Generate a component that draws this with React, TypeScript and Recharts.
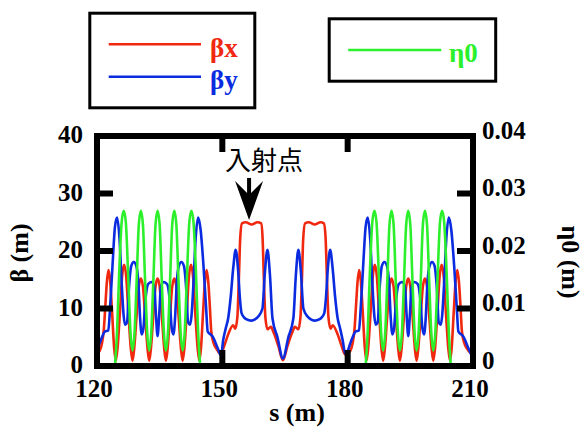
import { ComposedChart, Line, XAxis, YAxis, Legend, ReferenceDot } from 'recharts';

const RED = '#f0280f';
const BLUE = '#0a2be0';
const GREEN = '#2cf02c';
const SERIF = "'Liberation Serif', 'Times New Roman', Times, serif";
const CJK = "'Noto Sans CJK JP', 'Noto Sans CJK SC', sans-serif";

type Pt = [number, number | null];

const sTicks = [120, 150, 180, 210];
const betaTicks = [0, 10, 20, 30, 40];
const etaTicks = [0, 0.01, 0.02, 0.03, 0.04];

// injection point marker (s in m, beta in m)
const injection = { s: 156.4, beta: 25.4, label: '入射点' };

// βx : first arc, straight section, second arc
const betaXArc1: Pt[] = [
  [120.0, 2.2], [120.6, 2.6], [121.2, 4.0], [121.65, 6.5], [122.0, 10.5], [122.35, 14.5],
  [122.75, 16.7], [123.15, 14.8], [123.6, 9.5], [124.1, 3.2], [124.5, 0.9], [124.9, 3.0],
  [125.5, 9.5], [126.0, 15.5], [126.5, 17.6], [127.0, 15.5], [127.5, 9.5], [128.1, 3.0],
  [128.5, 0.9], [128.9, 3.0], [129.5, 9.0], [130.0, 13.8], [130.5, 15.2], [131.0, 13.8],
  [131.5, 9.0], [132.1, 3.0], [132.5, 0.9], [132.9, 3.0], [133.5, 9.0], [134.0, 13.8],
  [134.5, 15.2], [135.0, 13.8], [135.5, 9.0], [136.1, 3.0], [136.5, 0.9], [136.9, 3.0],
  [137.5, 9.0], [138.0, 13.8], [138.5, 15.2], [139.0, 13.8], [139.5, 9.0], [140.1, 3.0],
  [140.5, 0.9], [140.9, 3.0], [141.5, 9.5], [142.0, 15.5], [142.5, 17.6], [143.0, 15.5],
  [143.5, 9.5], [144.1, 3.0], [144.5, 0.9], [144.9, 3.2], [145.4, 9.5], [145.85, 14.8],
  [146.25, 16.7], [146.65, 14.5], [147.0, 10.5], [147.35, 6.0], [147.9, 4.0], [148.6, 3.0],
  [149.6, 2.1],
];
const betaXStraight: Pt[] = [
  [150.5, 3.6], [151.4, 5.5], [152.6, 7.1], [153.1, 6.5], [153.6, 8.5], [153.95, 15.0],
  [154.3, 22.5], [154.7, 24.8], [155.6, 25.0], [157.0, 24.6], [158.4, 25.0], [159.3, 24.8],
  [159.65, 22.0], [159.95, 15.0], [160.3, 8.5], [160.8, 6.4], [161.6, 6.8], [162.4, 5.6],
  [163.4, 3.5], [164.5, 1.0], [165.6, 3.5], [166.6, 5.6], [167.4, 6.8], [168.2, 6.4],
  [168.7, 8.5], [169.05, 15.0], [169.35, 22.0], [169.8, 24.8], [170.7, 25.0], [172.1, 24.6],
  [173.5, 25.0], [174.3, 24.8], [174.7, 22.5], [175.05, 15.0], [175.4, 8.5], [175.9, 6.5],
  [176.4, 7.1], [177.6, 5.5], [178.5, 3.6], [179.4, 2.0],
];
const betaXArc2: Pt[] = [
  [180.0, 2.2], [180.6, 2.6], [181.2, 4.0], [181.65, 6.5], [182.0, 10.5], [182.35, 14.5],
  [182.75, 16.7], [183.15, 14.8], [183.6, 9.5], [184.1, 3.2], [184.5, 0.9], [184.9, 3.0],
  [185.5, 9.5], [186.0, 15.5], [186.5, 17.6], [187.0, 15.5], [187.5, 9.5], [188.1, 3.0],
  [188.5, 0.9], [188.9, 3.0], [189.5, 9.0], [190.0, 13.8], [190.5, 15.2], [191.0, 13.8],
  [191.5, 9.0], [192.1, 3.0], [192.5, 0.9], [192.9, 3.0], [193.5, 9.0], [194.0, 13.8],
  [194.5, 15.2], [195.0, 13.8], [195.5, 9.0], [196.1, 3.0], [196.5, 0.9], [196.9, 3.0],
  [197.5, 9.0], [198.0, 13.8], [198.5, 15.2], [199.0, 13.8], [199.5, 9.0], [200.1, 3.0],
  [200.5, 0.9], [200.9, 3.0], [201.5, 9.5], [202.0, 15.5], [202.5, 17.6], [203.0, 15.5],
  [203.5, 9.5], [204.1, 3.0], [204.5, 0.9], [204.9, 3.2], [205.4, 9.5], [205.85, 14.8],
  [206.25, 16.7], [206.65, 14.5], [207.0, 10.5], [207.35, 6.0], [207.9, 4.0], [208.6, 3.0],
  [209.6, 2.1],
];

// βy
const betaYArc1: Pt[] = [
  [120.0, 2.6], [120.6, 3.9], [121.3, 5.2], [121.9, 6.0], [122.7, 6.2], [123.2, 11.0],
  [123.7, 17.3], [124.3, 24.2], [124.8, 25.8], [125.4, 22.0], [125.9, 14.5], [126.4, 8.6],
  [126.75, 7.2], [127.2, 7.6], [127.65, 13.5], [128.2, 17.4], [128.8, 18.1], [129.4, 17.4],
  [129.9, 14.5], [130.3, 8.5], [130.7, 5.5], [131.1, 6.5], [131.6, 11.5], [132.2, 14.2],
  [133.0, 14.6], [133.7, 13.8], [134.1, 9.0], [134.5, 5.2], [134.9, 9.0], [135.3, 13.8],
  [136.0, 14.6], [136.8, 14.2], [137.4, 11.5], [137.9, 6.5], [138.3, 5.5], [138.7, 8.5],
  [139.1, 14.5], [139.6, 17.4], [140.2, 18.1], [140.8, 17.4], [141.35, 13.5], [141.8, 7.6],
  [142.25, 7.2], [142.6, 8.6], [143.1, 14.5], [143.6, 22.0], [144.2, 25.8], [144.8, 23.7],
  [145.5, 17.3], [146.1, 10.3], [146.5, 6.0], [147.7, 5.1], [148.9, 3.1], [149.7, 1.8],
];
const betaYStraight: Pt[] = [
  [150.2, 4.5], [150.8, 6.5], [151.4, 8.3], [152.0, 12.0], [152.6, 17.0], [153.2, 20.2],
  [153.8, 16.4], [154.2, 11.8], [154.6, 9.2], [155.4, 8.3], [156.2, 8.0], [157.0, 7.9],
  [157.8, 8.1], [158.6, 8.6], [159.6, 10.0], [160.2, 16.4], [160.8, 20.2], [161.4, 15.8],
  [162.0, 8.3], [163.2, 5.0], [164.5, 1.3], [165.8, 5.0], [167.0, 8.3], [167.6, 15.8],
  [168.2, 20.2], [168.8, 16.4], [169.4, 10.0], [170.4, 8.6], [171.2, 8.1], [172.0, 7.9],
  [172.8, 8.0], [173.6, 8.3], [174.4, 9.2], [174.8, 11.8], [175.2, 16.4], [175.8, 20.2],
  [176.4, 17.0], [177.0, 12.0], [177.6, 8.3], [178.2, 6.5], [178.8, 4.5], [179.4, 2.2],
];
const betaYArc2: Pt[] = [
  [180.0, 2.6], [180.6, 3.9], [181.3, 5.2], [181.9, 6.0], [182.7, 6.2], [183.2, 11.0],
  [183.7, 17.3], [184.3, 24.2], [184.8, 25.8], [185.4, 22.0], [185.9, 14.5], [186.4, 8.6],
  [186.75, 7.2], [187.2, 7.6], [187.65, 13.5], [188.2, 17.4], [188.8, 18.1], [189.4, 17.4],
  [189.9, 14.5], [190.3, 8.5], [190.7, 5.5], [191.1, 6.5], [191.6, 11.5], [192.2, 14.2],
  [193.0, 14.6], [193.7, 13.8], [194.1, 9.0], [194.5, 5.2], [194.9, 9.0], [195.3, 13.8],
  [196.0, 14.6], [196.8, 14.2], [197.4, 11.5], [197.9, 6.5], [198.3, 5.5], [198.7, 8.5],
  [199.1, 14.5], [199.6, 17.4], [200.2, 18.1], [200.8, 17.4], [201.35, 13.5], [201.8, 7.6],
  [202.25, 7.2], [202.6, 8.6], [203.1, 14.5], [203.6, 22.0], [204.2, 25.8], [204.8, 23.7],
  [205.5, 17.3], [206.1, 10.3], [206.5, 6.0], [207.7, 5.1], [208.9, 3.1], [209.7, 1.8],
];

// η0 (m), zero in the straight sections
const etaArc1: Pt[] = [
  [124.3, 0], [124.8, 0.006], [125.3, 0.016], [125.9, 0.025], [126.4, 0.027], [126.9, 0.025],
  [127.5, 0.015], [128.0, 0.006], [128.5, 0.0027], [129.0, 0.006], [129.5, 0.015], [130.0, 0.0245],
  [130.5, 0.027], [131.0, 0.0245], [131.5, 0.015], [132.0, 0.006], [132.5, 0.0027], [133.0, 0.006],
  [133.5, 0.015], [134.0, 0.0245], [134.5, 0.027], [135.0, 0.0245], [135.5, 0.015], [136.0, 0.006],
  [136.5, 0.0027], [137.0, 0.006], [137.5, 0.015], [138.0, 0.0245], [138.5, 0.027], [139.0, 0.0245],
  [139.5, 0.015], [140.0, 0.006], [140.5, 0.0027], [141.0, 0.006], [141.5, 0.015], [142.1, 0.025],
  [142.6, 0.027], [143.1, 0.025], [143.7, 0.016], [144.2, 0.006], [144.7, 0],
];
const etaStraight: Pt[] = [[165.0, null]];
const etaArc2: Pt[] = [
  [184.3, 0], [184.8, 0.006], [185.3, 0.016], [185.9, 0.025], [186.4, 0.027], [186.9, 0.025],
  [187.5, 0.015], [188.0, 0.006], [188.5, 0.0027], [189.0, 0.006], [189.5, 0.015], [190.0, 0.0245],
  [190.5, 0.027], [191.0, 0.0245], [191.5, 0.015], [192.0, 0.006], [192.5, 0.0027], [193.0, 0.006],
  [193.5, 0.015], [194.0, 0.0245], [194.5, 0.027], [195.0, 0.0245], [195.5, 0.015], [196.0, 0.006],
  [196.5, 0.0027], [197.0, 0.006], [197.5, 0.015], [198.0, 0.0245], [198.5, 0.027], [199.0, 0.0245],
  [199.5, 0.015], [200.0, 0.006], [200.5, 0.0027], [201.0, 0.006], [201.5, 0.015], [202.1, 0.025],
  [202.6, 0.027], [203.1, 0.025], [203.7, 0.016], [204.2, 0.006], [204.7, 0],
];

const toRows = (key: string, ...parts: Pt[][]) =>
  parts.flat().map(([s, v]) => ({ s, [key]: v }));

const betaXData = toRows('bx', betaXArc1, betaXStraight, betaXArc2);
const betaYData = toRows('by', betaYArc1, betaYStraight, betaYArc2);
const etaData = toRows('eta', etaArc1, etaStraight, etaArc2);

const FRAME = 6;
const TICK_LEN = 16;
const serifStyle = { fontFamily: SERIF, fontWeight: 700 };
const textProps = { style: serifStyle, fontSize: 25, fill: '#000' };

function BottomTick({ x, y, payload }: any) {
  return (
    <g>
      <line x1={x} y1={y} x2={x} y2={y - TICK_LEN} stroke="#000" strokeWidth={FRAME} />
      <text x={x - 3} y={y + 31} textAnchor="middle" {...textProps}>
        {payload.value}
      </text>
    </g>
  );
}

function TopTick({ x, y }: any) {
  return <line x1={x} y1={y} x2={x} y2={y + TICK_LEN} stroke="#000" strokeWidth={FRAME} />;
}

function LeftTick({ x, y, payload }: any) {
  return (
    <g>
      <line x1={x} y1={y} x2={x + TICK_LEN} y2={y} stroke="#000" strokeWidth={FRAME} />
      <text x={x - 14} y={y + 7} textAnchor="end" {...textProps}>
        {payload.value}
      </text>
    </g>
  );
}

function RightTick({ x, y, payload }: any) {
  const v = payload.value;
  return (
    <g>
      <line x1={x} y1={y} x2={x - TICK_LEN} y2={y} stroke="#000" strokeWidth={FRAME} />
      <text x={x + 9} y={y + 2.5} textAnchor="start" {...textProps}>
        {v === 0 ? '0' : v.toFixed(2)}
      </text>
    </g>
  );
}

function InjectionMarker({ cx, cy }: any) {
  if (cx == null || cy == null) return null;
  return (
    <g>
      <rect x={cx - 2} y={cy - 42} width={4} height={20} fill="#000" />
      <polygon
        points={`${cx},${cy} ${cx - 14},${cy - 39} ${cx},${cy - 25} ${cx + 14},${cy - 39}`}
        fill="#000"
      />
      <text x={cx + 15} y={cy - 50} textAnchor="middle" style={{ fontFamily: CJK }} fontSize={26} fill="#000">
        {injection.label}
      </text>
    </g>
  );
}

function LegendBoxes({ payload }: any) {
  const items = payload ?? [];
  const beta = items.filter((p: any) => p.dataKey !== 'eta');
  const eta = items.filter((p: any) => p.dataKey === 'eta');
  return (
    <svg width={584} height={125} style={{ display: 'block' }}>
      <rect x={89.8} y={13.2} width={165} height={94.6} fill="none" stroke="#000" strokeWidth={3} />
      {beta.map((p: any, i: number) => (
        <g key={p.value}>
          <line x1={108.7} x2={201} y1={44.3 + i * 32.4} y2={44.3 + i * 32.4} stroke={p.color} strokeWidth={2.6} />
          <text x={210} y={57 + i * 32} fill={p.color} style={serifStyle} fontSize={27}>
            {p.value}
          </text>
        </g>
      ))}
      <rect x={329.2} y={18.8} width={166.5} height={62.4} fill="none" stroke="#000" strokeWidth={3} />
      {eta.map((p: any) => (
        <g key={p.value}>
          <line x1={348.2} x2={441.3} y1={50} y2={50} stroke={p.color} strokeWidth={2.6} />
          <text x={449} y={62} fill={p.color} style={serifStyle} fontSize={27}>
            {p.value}
          </text>
        </g>
      ))}
    </svg>
  );
}

const axisLine = { stroke: '#000', strokeWidth: FRAME, strokeLinecap: 'square' as const };

export default function App() {
  return (
    <div style={{ position: 'absolute', left: 0, top: 0, width: 584, height: 428, background: '#fff' }}>
      <ComposedChart width={584} height={428} margin={{ top: 126, right: 51, bottom: 22, left: 37 }}>
        <Legend
          layout="horizontal"
          verticalAlign="middle"
          align="center"
          wrapperStyle={{ left: 0, top: 0, width: 584, height: 125 }}
          content={(props: any) => <LegendBoxes payload={props.payload} />}
        />
        <Line
          data={betaXData}
          dataKey="bx"
          name="βx"
          yAxisId="left"
          type="monotone"
          stroke={RED}
          strokeWidth={2.6}
          dot={false}
          activeDot={false}
          isAnimationActive={false}
        />
        <Line
          data={betaYData}
          dataKey="by"
          name="βy"
          yAxisId="left"
          type="monotone"
          stroke={BLUE}
          strokeWidth={2.6}
          dot={false}
          activeDot={false}
          isAnimationActive={false}
        />
        <Line
          data={etaData}
          dataKey="eta"
          name="η0"
          yAxisId="right"
          type="monotone"
          stroke={GREEN}
          strokeWidth={2.6}
          dot={false}
          activeDot={false}
          connectNulls={false}
          isAnimationActive={false}
        />
        <ReferenceDot
          x={injection.s}
          y={injection.beta}
          yAxisId="left"
          r={0}
          ifOverflow="visible"
          shape={(p: any) => <InjectionMarker {...p} />}
        />
        <XAxis
          dataKey="s"
          type="number"
          domain={[120, 210]}
          ticks={sTicks}
          allowDataOverflow
          height={40}
          axisLine={axisLine}
          tickLine={false}
          tickSize={0}
          tickMargin={0}
          tick={<BottomTick />}
          interval={0}
          label={(p: any) => {
            const vb = p.viewBox ?? {};
            return (
              <text x={vb.x + vb.width / 2 + 12} y={vb.y + 55} textAnchor="middle" {...textProps} fontSize={26}>
                s (m)
              </text>
            );
          }}
        />
        <XAxis
          xAxisId="top"
          orientation="top"
          dataKey="s"
          type="number"
          domain={[120, 210]}
          ticks={[150, 180]}
          allowDataOverflow
          height={10}
          axisLine={axisLine}
          tickLine={false}
          tickSize={0}
          tickMargin={0}
          tick={<TopTick />}
          interval={0}
        />
        <YAxis
          yAxisId="left"
          type="number"
          domain={[0, 40]}
          ticks={betaTicks}
          allowDataOverflow
          width={60}
          axisLine={axisLine}
          tickLine={false}
          tickSize={0}
          tickMargin={0}
          tick={<LeftTick />}
          interval={0}
          label={(p: any) => {
            const vb = p.viewBox ?? {};
            const x = vb.x + vb.width - 69;
            const y = vb.y + vb.height / 2 + 2;
            return (
              <text x={x} y={y} transform={`rotate(-90 ${x} ${y})`} textAnchor="middle" {...textProps} fontSize={26}>
                β (m)
              </text>
            );
          }}
        />
        <YAxis
          yAxisId="right"
          orientation="right"
          type="number"
          domain={[0, 0.04]}
          ticks={etaTicks}
          allowDataOverflow
          width={60}
          axisLine={axisLine}
          tickLine={false}
          tickSize={0}
          tickMargin={0}
          tick={<RightTick />}
          interval={0}
          label={(p: any) => {
            const vb = p.viewBox ?? {};
            const x = vb.x + 89;
            const y = vb.y + vb.height / 2 + 11;
            return (
              <text x={x} y={y} transform={`rotate(90 ${x} ${y})`} textAnchor="middle" {...textProps} fontSize={26}>
                η0 (m)
              </text>
            );
          }}
        />
      </ComposedChart>
    </div>
  );
}
